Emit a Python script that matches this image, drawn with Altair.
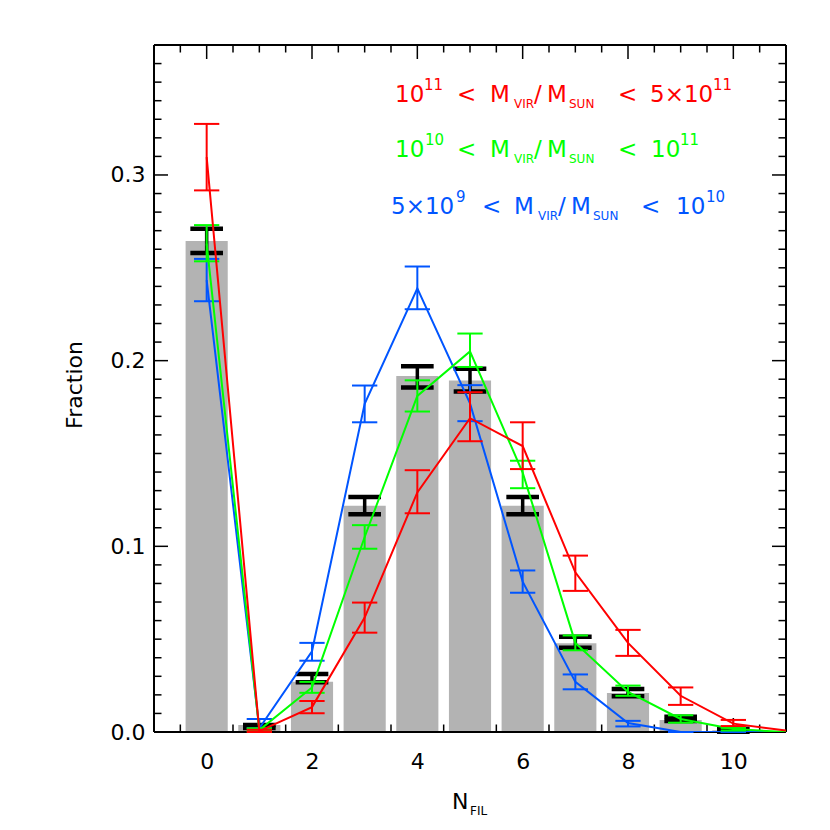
import altair as alt
import pandas as pd
import numpy as np

# ---------------- data ----------------
n_bar = list(range(11))
bar_frac = [0.2645, 0.0038, 0.0270, 0.1218, 0.1917, 0.1893, 0.1218, 0.0478, 0.0210, 0.0065, 0.0010]
bar_lo = [0.2580, 0.0022, 0.0268, 0.1173, 0.1856, 0.1834, 0.1173, 0.0454, 0.0192, 0.0059, 0.0002]
bar_hi = [0.2710, 0.0038, 0.0313, 0.1266, 0.1970, 0.1957, 0.1266, 0.0513, 0.0232, 0.0082, 0.0018]

n_line = list(range(12))
n_err = list(range(11))
red = [0.3096, 0.0005, 0.0134, 0.0616, 0.1290, 0.1690, 0.1540, 0.0860, 0.0480, 0.0195, 0.0045, 0.0008]
red_lo = [0.2917, 0.0000, 0.0101, 0.0535, 0.1178, 0.1566, 0.1416, 0.0760, 0.0410, 0.0146, 0.0032]
red_hi = [0.3275, 0.0012, 0.0167, 0.0697, 0.1410, 0.1830, 0.1668, 0.0950, 0.0550, 0.0240, 0.0065]

green = [0.2630, 0.0010, 0.0240, 0.1050, 0.1810, 0.2050, 0.1397, 0.0480, 0.0216, 0.0070, 0.0016, 0.0000]
green_lo = [0.2535, 0.0005, 0.0211, 0.0987, 0.1726, 0.1966, 0.1313, 0.0440, 0.0195, 0.0050, 0.0008]
green_hi = [0.2730, 0.0020, 0.0270, 0.1114, 0.1894, 0.2146, 0.1461, 0.0520, 0.0250, 0.0090, 0.0022]

blue = [0.2434, 0.0020, 0.0435, 0.1768, 0.2389, 0.1770, 0.0810, 0.0270, 0.0048, 0.0000, 0.0000, 0.0000]
blue_lo = [0.2320, 0.0020, 0.0384, 0.1668, 0.2277, 0.1674, 0.0750, 0.0230, 0.0030, 0.0000, 0.0000]
blue_hi = [0.2548, 0.0070, 0.0480, 0.1866, 0.2507, 0.1868, 0.0870, 0.0310, 0.0060, 0.0000, 0.0000]

x_label_values = [0, 2, 4, 6, 8, 10]
y_label_values = [0.0, 0.1, 0.2, 0.3]

# ---------------- layout ----------------
XMIN, XMAX = -1, 11
YMIN, YMAX = 0.0, 0.37
W, H = 632, 687
LEFT, TOP = 146, 37

RED, GREEN, BLUE = "#ff0000", "#00ff00", "#0055ff"
FONT = "DejaVu Sans"

xs = alt.Scale(domain=[XMIN, XMAX], nice=False, zero=False)
ys = alt.Scale(domain=[YMIN, YMAX], nice=False, zero=False)
xaxis = alt.Axis(values=x_label_values, format="d", orient="bottom", labelFontSize=22,
                 labelPadding=19, title=None, domain=False, ticks=False, grid=False)
yaxis = alt.Axis(values=y_label_values, format=".1f", orient="left", labelFontSize=22,
                 labelPadding=9, title=None, domain=False, ticks=False, grid=False)


def X(f):
    return alt.X(f, scale=xs, axis=xaxis)


def Y(f):
    return alt.Y(f, scale=ys, axis=yaxis)


def px2x(px):
    return XMIN + (px - (LEFT + 8)) * (XMAX - XMIN) / W


def py2y(py):
    return YMIN + ((TOP + 8 + H) - py) * (YMAX - YMIN) / H


layers = []

# ---- inward ticks (drawn under bars) ----
x_major = [0, 2, 4, 6, 8, 10]
x_minor = [float(v) for v in np.arange(-0.5, 11.0, 0.5) if v not in x_major]
y_major = [0.1, 0.2, 0.3]
y_minor = [round(float(v), 2) for v in np.arange(0.01, 0.375, 0.01) if round(float(v), 2) not in y_major]


def xticks(vals, length):
    d = pd.DataFrame({"v": vals})
    base = alt.Chart(d).mark_rule(color="black", strokeWidth=1.5)
    bot = base.encode(x=X("v:Q"), y=alt.value(H), y2=alt.value(H - length))
    top = base.encode(x=X("v:Q"), y=alt.value(0), y2=alt.value(length))
    return [bot, top]


def yticks(vals, length):
    d = pd.DataFrame({"v": vals})
    base = alt.Chart(d).mark_rule(color="black", strokeWidth=1.5)
    lft = base.encode(y=Y("v:Q"), x=alt.value(0), x2=alt.value(length))
    rgt = base.encode(y=Y("v:Q"), x=alt.value(W), x2=alt.value(W - length))
    return [lft, rgt]


layers += xticks(x_major, 14) + xticks(x_minor, 7.5)
layers += yticks(y_major, 14) + yticks(y_minor, 7.5)

# ---- bars ----
bars_df = pd.DataFrame({"n": n_bar, "frac": bar_frac, "lo": bar_lo, "hi": bar_hi})
bars_df["x0"] = bars_df["n"] - 0.4
bars_df["x1"] = bars_df["n"] + 0.4
bars_df["zero"] = 0.0
bars = alt.Chart(bars_df).mark_rect(color="#b3b3b3").encode(
    x=X("x0:Q"), x2="x1:Q", y=Y("zero:Q"), y2="frac:Q")
layers.append(bars)

# ---- frame ----
frame_style = dict(color="black", strokeWidth=2)
layers.append(alt.Chart(bars_df).mark_rule(**frame_style).encode(x=alt.value(0), x2=alt.value(W), y=alt.value(H)))
layers.append(alt.Chart(bars_df).mark_rule(**frame_style).encode(x=alt.value(0), x2=alt.value(W), y=alt.value(0)))
layers.append(alt.Chart(bars_df).mark_rule(**frame_style).encode(y=alt.value(0), y2=alt.value(H), x=alt.value(0)))
layers.append(alt.Chart(bars_df).mark_rule(**frame_style).encode(y=alt.value(0), y2=alt.value(H), x=alt.value(W)))


def errbars(df, color, half, sw_v, sw_c):
    d = df.copy()
    d["xa"] = d["n"] - half
    d["xb"] = d["n"] + half
    v = alt.Chart(d).mark_rule(color=color, strokeWidth=sw_v).encode(
        x=X("n:Q"), y=Y("lo:Q"), y2="hi:Q")
    c1 = alt.Chart(d).mark_rule(color=color, strokeWidth=sw_c).encode(
        x=X("xa:Q"), x2="xb:Q", y=Y("lo:Q"))
    c2 = alt.Chart(d).mark_rule(color=color, strokeWidth=sw_c).encode(
        x=X("xa:Q"), x2="xb:Q", y=Y("hi:Q"))
    return [v, c1, c2]


# black error bars on histogram
layers += errbars(bars_df[["n", "lo", "hi"]], "black", 0.31, 3.5, 4.5)

# coloured series: blue, green, red (red on top)
for vals, lo, hi, col in [(blue, blue_lo, blue_hi, BLUE),
                          (green, green_lo, green_hi, GREEN),
                          (red, red_lo, red_hi, RED)]:
    ld = pd.DataFrame({"n": n_line, "f": vals})
    layers.append(alt.Chart(ld).mark_line(color=col, strokeWidth=2, clip=True).encode(
        x=X("n:Q"), y=Y("f:Q")))
    ed = pd.DataFrame({"n": n_err, "lo": lo, "hi": hi})
    layers += errbars(ed, col, 0.24, 2, 2)

# ---- legend / annotation text ----
MAIN, SUP, SUB = 23, 15, 12
rows = [
    (RED, 102, [("10", 395, "m"), ("11", 424, "p"), ("<", 457, "m"), ("M", 490, "m"), ("VIR", 514, "b"),
                ("/", 534, "m"), ("M", 547, "m"), ("SUN", 569, "b"), ("<", 618, "m"), ("5×10", 650, "m"),
                ("11", 713, "p")]),
    (GREEN, 157, [("10", 395, "m"), ("10", 425, "p"), ("<", 457, "m"), ("M", 490, "m"), ("VIR", 514, "b"),
                  ("/", 534, "m"), ("M", 547, "m"), ("SUN", 569, "b"), ("<", 618, "m"), ("10", 651, "m"),
                  ("11", 680, "p")]),
    (BLUE, 214, [("5×10", 391, "m"), ("9", 456, "p"), ("<", 482, "m"), ("M", 514, "m"), ("VIR", 538, "b"),
                 ("/", 558, "m"), ("M", 571, "m"), ("SUN", 593, "b"), ("<", 641, "m"), ("10", 676, "m"),
                 ("10", 706, "p")]),
    ("black", 809, [("N", 452, "m2"), ("FIL", 470, "b")]),
]
recs = []
for col, base, segs in rows:
    for t, px, kind in segs:
        if kind == "m":
            py, sz = base, MAIN
        elif kind == "m2":
            py, sz = base, 22
        elif kind == "p":
            py, sz = base - 12, SUP
        else:
            py, sz = base + 6, SUB
        recs.append({"t": t, "x": px2x(px), "y": py2y(py), "size": sz, "color": col})
txt_df = pd.DataFrame(recs)
layers.append(alt.Chart(txt_df).mark_text(align="left", baseline="alphabetic", font=FONT).encode(
    x=X("x:Q"), y=Y("y:Q"),
    text="t:N", size=alt.Size("size:Q", scale=None, legend=None),
    color=alt.Color("color:N", scale=None, legend=None)))

ytitle = pd.DataFrame({"t": ["Fraction"], "x": [px2x(75)], "y": [py2y(385)]})
layers.append(alt.Chart(ytitle).mark_text(align="center", baseline="middle", angle=270, font=FONT,
                                          fontSize=22, color="black").encode(
    x=X("x:Q"), y=Y("y:Q"), text="t:N"))

chart = alt.layer(*layers).properties(
    width=W, height=H,
    autosize=alt.AutoSizeParams(type="none"),
    padding={"left": LEFT, "top": TOP, "right": 30, "bottom": 90},
).configure_view(stroke=None).configure_axis(
    labelFont=FONT, labelColor="black"
)

chart.save("out.html", embed_options={"renderer": "svg", "actions": False})
